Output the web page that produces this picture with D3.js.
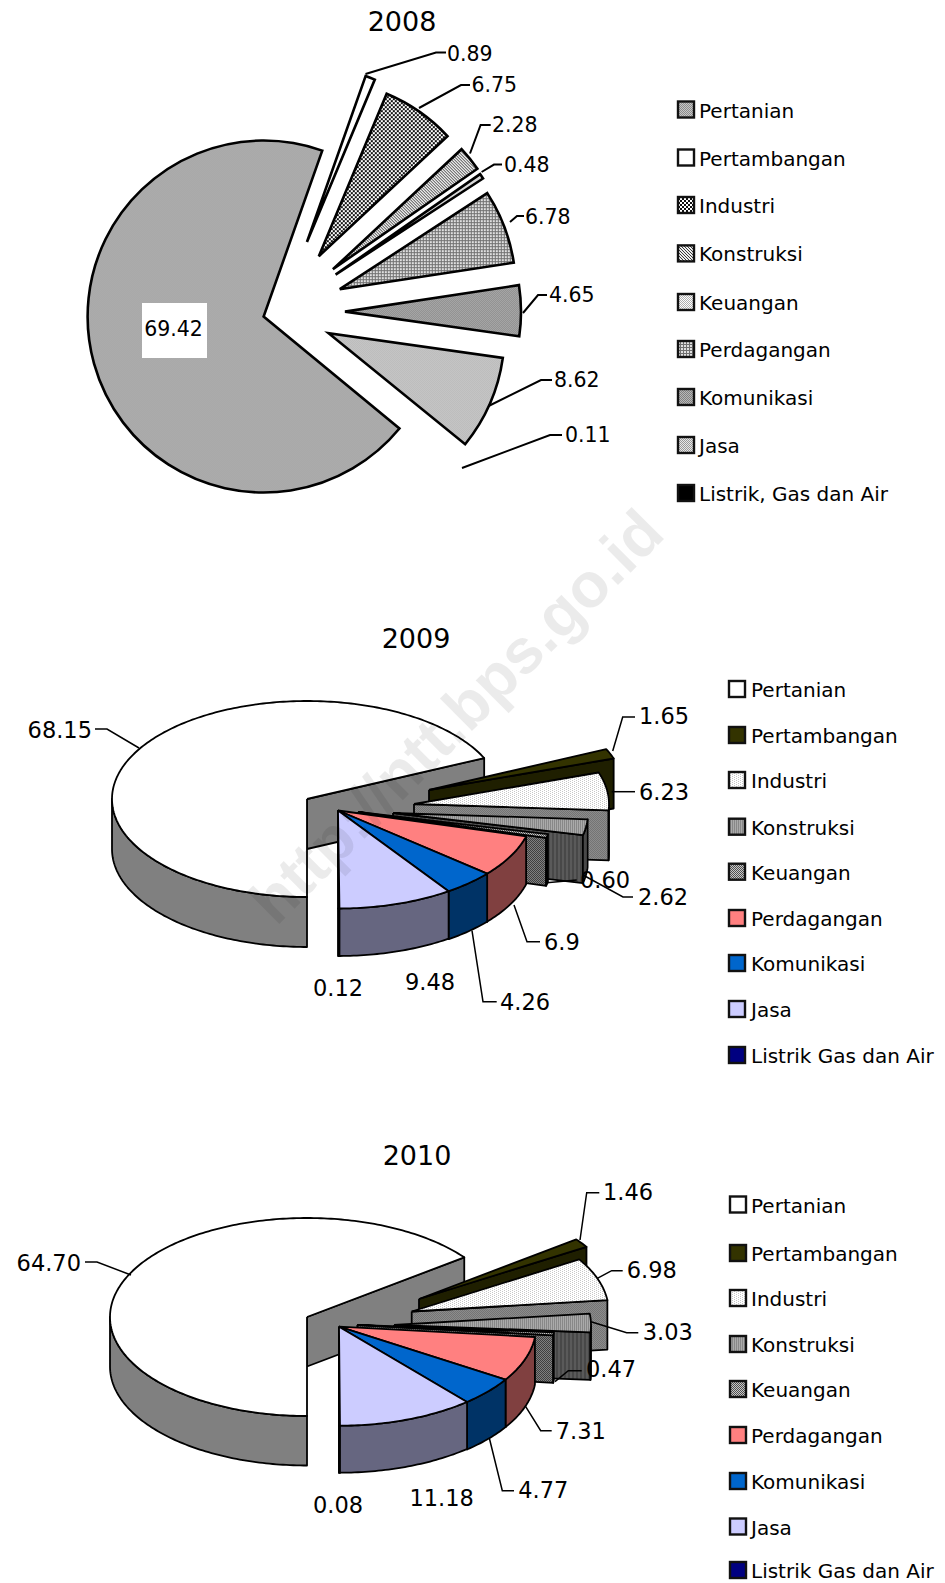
<!DOCTYPE html>
<html><head><meta charset="utf-8">
<script src="https://cdn.jsdelivr.net/npm/d3@7"></script>
<style>html,body{margin:0;padding:0;background:#fff}svg{display:block}text{font-family:"DejaVu Sans",sans-serif;fill:#000}</style>
</head><body><svg id="c" width="945" height="1583"></svg>
<script>
// ---------- data ----------
const categories08 = ["Pertanian","Pertambangan","Industri","Konstruksi","Keuangan","Perdagangan","Komunikasi","Jasa","Listrik, Gas dan Air"];
const categories3d = ["Pertanian","Pertambangan","Industri","Konstruksi","Keuangan","Perdagangan","Komunikasi","Jasa","Listrik Gas dan Air"];
const values08 = [69.42,0.89,6.75,2.28,0.48,6.78,4.65,8.62,0.11];
const values09 = [68.15,1.65,6.23,2.62,0.60,6.9,4.26,9.48,0.12];
const values10 = [64.70,1.46,6.98,3.03,0.47,7.31,4.77,11.18,0.08];
const labels08 = ["69.42","0.89","6.75","2.28","0.48","6.78","4.65","8.62","0.11"];
const labels09 = ["68.15","1.65","6.23","2.62","0.60","6.9","4.26","9.48","0.12"];
const labels10 = ["64.70","1.46","6.98","3.03","0.47","7.31","4.77","11.18","0.08"];

// ---------- layout & style (not data) ----------
const deg = Math.PI/180;
const svg = d3.select("#c");
const defs = svg.append("defs");
function pat(id,bg,fg,tile){
  const h=tile.length,w=tile[0].length;
  const p=defs.append("pattern").attr("id",id).attr("patternUnits","userSpaceOnUse").attr("width",w).attr("height",h);
  p.append("rect").attr("width",w).attr("height",h).attr("fill",bg);
  tile.forEach((r,y)=>[...r].forEach((c,x)=>{if(c==="1")p.append("rect").attr("x",x).attr("y",y).attr("width",1).attr("height",1).attr("fill",fg);}));
  return `url(#${id})`;
}
const fill08 = [
  pat("a0","#c8c8c8","#8c8c8c",["10","01"]),
  "#fff",
  pat("a2","#ffffff","#111111",["1100","1100","0011","0011"]),
  pat("a3","#eeeeee","#3a3a3a",["100","010","001"]),
  pat("a4","#ffffff","#b0b0b0",["10","01"]),
  pat("a5","#707070","#e0e0e0",["110","110","000"]),
  pat("a6","#b8b8b8","#808080",["10","01"]),
  pat("a7","#e8e8e8","#999999",["10","01"]),
  "#000"
];
const top3d = [
  "#fff","#333300",
  pat("b2","#ffffff","#c8c8c8",["1000","0010"]),
  pat("b3","#aaaaaa","#888888",["10"]),
  pat("b4","#c8c8c8","#505050",["10","01"]),
  "#ff8080","#0066cc","#ccccff","#000080"];
const side3d = [
  "#808080","#1f1f00",
  pat("s2","#8c8c8c","#747474",["10","01"]),
  pat("s3","#5a5a5a","#484848",["1100"]),
  pat("s4","#808080","#404040",["10","01"]),
  "#804040","#003366","#666680","#000050"];
const depthScale3d = [1,1,1,0.96,0.96,0.96,0.96,0.95,0.95];

function title(t,x,y){svg.append("text").attr("x",x).attr("y",y).attr("dy",".4em").attr("text-anchor","middle").attr("font-size",27).text(t);}
function legend(names,fills,rows,sx,tx,size){
  names.forEach((n,i)=>{
    svg.append("rect").attr("x",sx).attr("y",rows[i]-8).attr("width",16).attr("height",16).attr("fill",fills[i]).attr("stroke","#111").attr("stroke-width",2.4);
    svg.append("text").attr("x",tx).attr("y",rows[i]).attr("dy",".4em").attr("font-size",size).text(n);
  });
}
const line = d3.line();
function leaders(items,labels,size,w){
  items.forEach((it,i)=>{
    if(it.pts) svg.append("path").attr("d",line(it.pts)).attr("fill","none").attr("stroke","#000").attr("stroke-width",w);
    svg.append("text").attr("x",it.x).attr("y",it.y).attr("dy",".4em").attr("font-size",size)
      .attr("text-anchor",it.a||"start").text(labels[i]);
  });
}

// ---------- 2008: exploded flat pie ----------
title("2008",402,20);
const pie08 = d3.pie().sort(null).value(d=>d).startAngle(-230.5*deg).endAngle(129.5*deg)(values08);
const arc08 = d3.arc().innerRadius(0).outerRadius(176);
const centre08 = [280,312];
const explode08 = [17,75,68,68,67,64,65,53,64];
pie08.forEach((d,i)=>{
  const m=(d.startAngle+d.endAngle)/2;
  const tx=centre08[0]+explode08[i]*Math.sin(m), ty=centre08[1]-explode08[i]*Math.cos(m);
  svg.append("path").attr("d",arc08(d)).attr("transform",`translate(${tx},${ty})`)
    .attr("fill",i===8?"none":fill08[i]).attr("stroke",i===8?"none":"#000").attr("stroke-width",2.6).attr("stroke-linejoin","miter");
});
svg.append("rect").attr("x",142).attr("y",303).attr("width",65).attr("height",55).attr("fill","#fff");
leaders([
 {x:173.5,y:328,a:"middle"},
 {pts:[[365.5,74],[436,52.5],[446,52.5]],x:447,y:53},
 {pts:[[419,108],[461,85],[470,85]],x:471.5,y:84},
 {pts:[[470,153.5],[480.6,125],[490.7,125]],x:492,y:124},
 {pts:[[481.6,172],[494,164.6],[502,164.6]],x:504,y:164},
 {pts:[[510,222],[517,216],[524,216]],x:525,y:216},
 {pts:[[523,313],[538,295],[547,295]],x:549,y:294},
 {pts:[[488.6,406],[541,380],[552,380]],x:554,y:379},
 {pts:[[462,468],[550,435],[562,435]],x:565,y:434}
],labels08,20.5,2);
legend(categories08,fill08,[109.5,157.5,205,253.4,302,349,397,445,493],678,699,20);

// ---------- 3D exploded pies ----------
function pie3d(cfg){
  const P=d3.pie().sort(null).value(d=>d).startAngle(Math.PI).endAngle(3*Math.PI)(cfg.values);
  const order=[0,1,2,3,4,8,5,6,7];
  order.forEach(i=>{
    let s=P[i].startAngle/deg,e=P[i].endAngle/deg;
    if(s>=360){s-=360;e-=360;}
    const [ax,ay]=cfg.apex[i];
    const depth=cfg.depth*depthScale3d[i];
    const x=d3.scaleLinear().domain([-1,1]).range([ax-cfg.rx,ax+cfg.rx]);
    const y=d3.scaleLinear().domain([-1,1]).range([ay+cfg.ry,ay-cfg.ry]);
    const pt=(a,dz=0)=>[x(Math.sin(a*deg)),y(Math.cos(a*deg))+dz];
    const sweep=(a0,a1,dz=0)=>{const r=d3.range(a0,a1,1).concat([a1]);return r.map(a=>pt(a,dz));};
    const g=svg.append("g").attr("stroke","#000").attr("stroke-width",1.8).attr("stroke-linejoin","round");
    // radial side wall at the clockwise end
    const em=((e%360)+360)%360;
    if(em>0&&em<180){
      const q=pt(e);
      g.append("path").attr("d",line([[ax,ay],q,[q[0],q[1]+depth],[ax,ay+depth],[ax,ay]])).attr("fill",side3d[i]);
    }
    // outer rim, the part that faces the viewer
    const a0=Math.max(s,90),a1=Math.min(e,270);
    if(a1>a0){
      g.append("path").attr("d",line([...sweep(a0,a1),...sweep(a0,a1,depth).reverse()])+"Z").attr("fill",side3d[i]);
    }
    // top face
    g.append("path").attr("d",line([[ax,ay],...sweep(s,e),[ax,ay]])).attr("fill",top3d[i]);
  });
}
title("2009",416,637);
pie3d({values:values09,rx:195,ry:98,depth:50,
  apex:[[307,799],[429,790],[414,804],[393,813],[358,812],[338,810.5],[338,810.5],[338,810.5],[338,810.5]]});
leaders([
 {pts:[[139,748],[107,729],[95,729]],x:92,y:729,a:"end"},
 {pts:[[612.7,751],[622.7,717],[635,717]],x:639,y:715},
 {pts:[[611.7,791.7],[635,791.7]],x:639,y:791},
 {pts:[[583,875],[623,897],[633,897]],x:638,y:896},
 {pts:[[546.7,882.7],[576.7,880]],x:580,y:879},
 {pts:[[514,905],[527,941.7],[540,941.7]],x:544,y:941},
 {pts:[[472,930.7],[483,1001.7],[496.7,1001.7]],x:500,y:1001},
 {x:430,y:981,a:"middle"},
 {x:338,y:987,a:"middle"}
],labels09,22.5,1.5);
legend(categories3d,top3d,[689,735,780,826.7,871.7,918,963,1009,1055],729,751,20);

title("2010",417,1154);
pie3d({values:values10,rx:197,ry:99,depth:49.5,
  apex:[[307,1317],[419,1299],[411.7,1311.5],[394,1325],[357.3,1325],[339,1326.7],[339,1326.7],[339,1326.7],[339,1326.7]]});
leaders([
 {pts:[[131,1275],[97,1262],[85,1262]],x:81,y:1262,a:"end"},
 {pts:[[580,1240],[586.7,1192.7],[599.3,1192.7]],x:603,y:1191},
 {pts:[[597.3,1278.3],[611.7,1270.7],[622.7,1270.7]],x:626.7,y:1269},
 {pts:[[591,1321.7],[626.7,1332.7],[638.3,1332.7]],x:642.7,y:1331},
 {pts:[[555,1381.7],[568.3,1370.7],[581.7,1370.7]],x:586,y:1368},
 {pts:[[525.7,1406.7],[540.7,1430.7],[551.7,1430.7]],x:555.7,y:1430},
 {pts:[[489.3,1438],[502.3,1490.7],[514,1490.7]],x:518.3,y:1489},
 {x:441.7,y:1497,a:"middle"},
 {x:338,y:1504,a:"middle"}
],labels10,22.5,1.5);
legend(categories3d,top3d,[1204.5,1253,1298,1344,1389,1435,1481,1526.5,1570],730,751,20);

// ---------- watermark ----------
svg.append("text").attr("transform","translate(456,716) rotate(-45)").attr("text-anchor","middle").attr("dy",".35em")
  .style("font-family","'Liberation Sans',sans-serif").style("font-weight","bold").attr("font-size",63)
  .style("fill","#000").style("fill-opacity",0.08).text("http://ntt.bps.go.id");
</script></body></html>
